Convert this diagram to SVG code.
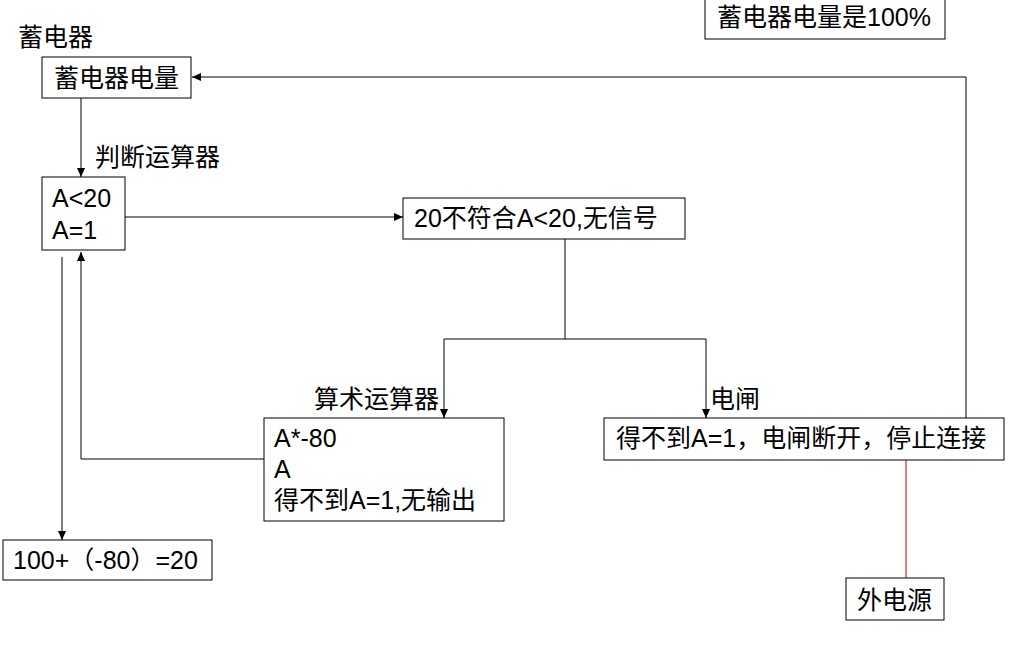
<svg xmlns="http://www.w3.org/2000/svg" width="1011" height="647" viewBox="0 0 1011 647">
<style>
.b{fill:#fff;stroke:#000;stroke-width:1}
text{font-family:"Liberation Sans","Noto Sans CJK SC",sans-serif;font-size:25px;fill:#000}
.c{fill:none;stroke:#000;stroke-width:1}
</style>
<defs><marker id="a" markerWidth="10" markerHeight="10" refX="9" refY="5" orient="auto" markerUnits="userSpaceOnUse"><path d="M0,1 L9,5 L0,9 Z" fill="#000"/></marker></defs>
<rect width="1011" height="647" fill="#fff"/>
<g id="connectors">
<line class="c" x1="81" y1="98" x2="81" y2="177" marker-end="url(#a)"/>
<line class="c" x1="125" y1="217" x2="403" y2="217" marker-end="url(#a)"/>
<polyline class="c" points="565,239 565,339"/>
<polyline class="c" points="565,339 444,339 444,418" marker-end="url(#a)"/>
<polyline class="c" points="565,339 706,339 706,418" marker-end="url(#a)"/>
<polyline class="c" points="264,459 81,459 81,252" marker-end="url(#a)"/>
<line class="c" x1="62" y1="257" x2="62" y2="540" marker-end="url(#a)"/>
<polyline class="c" points="966,418 966,77 192,77" marker-end="url(#a)"/>
<line x1="906" y1="460" x2="906" y2="578" stroke="#c00000" stroke-width="1"/>
</g>
<g id="top"><rect class="b" x="705" y="-1" width="240" height="40"/><text x="717" y="26">蓄电器电量是100%</text></g>
<text x="18" y="46">蓄电器</text>
<g id="n1"><rect class="b" x="42" y="57" width="149" height="41"/><text x="54" y="87">蓄电器电量</text></g>
<text x="95" y="166">判断运算器</text>
<g id="n2"><rect class="b" x="42" y="177" width="83" height="73"/><text x="52" y="207">A&lt;20</text><text x="52" y="239">A=1</text></g>
<g id="n3"><rect class="b" x="403" y="198" width="282" height="41"/><text x="414" y="227">20不符合A&lt;20,无信号</text></g>
<text x="314" y="408">算术运算器</text>
<text x="710" y="408">电闸</text>
<g id="n4"><rect class="b" x="264" y="418" width="240" height="103"/><text x="274" y="447">A*-80</text><text x="274" y="478">A</text><text x="274" y="509">得不到A=1,无输出</text></g>
<g id="n5"><rect class="b" x="604" y="418" width="400" height="42"/><text x="616" y="447">得不到A=1，电闸断开，停止连接</text></g>
<g id="n6"><rect class="b" x="3" y="540" width="209" height="40"/><text x="13" y="569">100+（-80）=20</text></g>
<g id="n7"><rect class="b" x="846" y="578" width="98" height="42"/><text x="857" y="609">外电源</text></g>
</svg>
